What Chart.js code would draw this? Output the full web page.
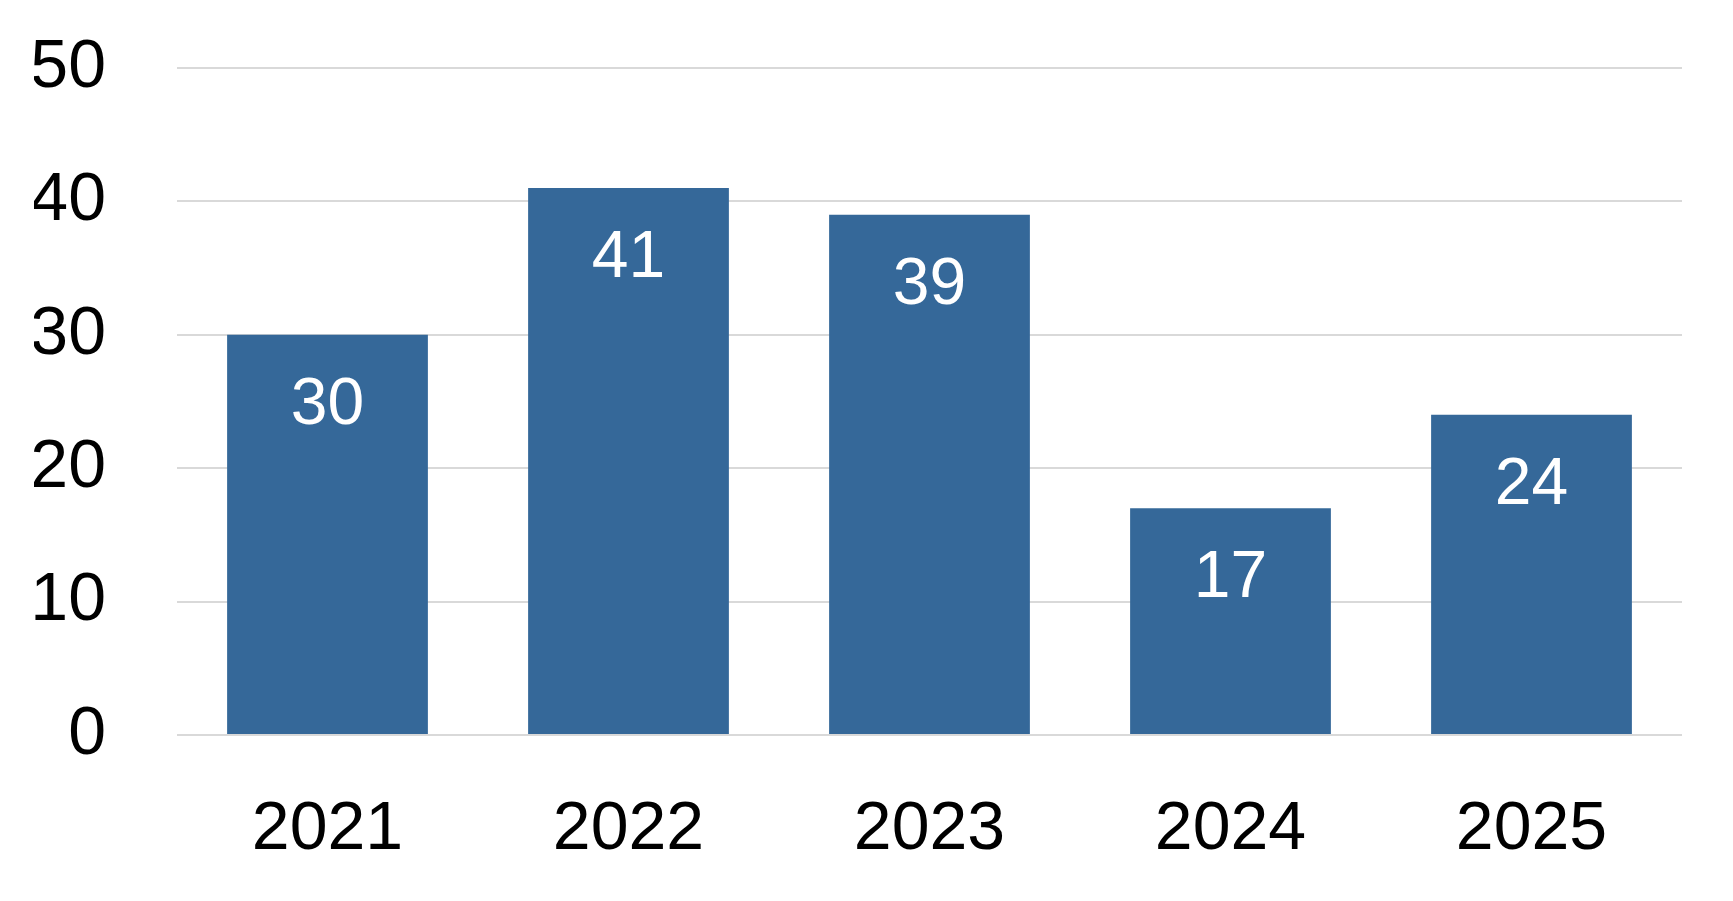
<!DOCTYPE html>
<html>
<head>
<meta charset="utf-8">
<title>Chart</title>
<script src="https://cdn.jsdelivr.net/npm/chart.js@4.4.1/dist/chart.umd.min.js"></script>
<style>
  html, body { margin: 0; padding: 0; background: #fff; }
  #graph { display: block; }
</style>
</head>
<body>
<canvas id="graph" width="1733" height="901"></canvas>
<script>
const years = ['2021', '2022', '2023', '2024', '2025'];
const counts = [30, 41, 39, 17, 24];
const yTicks = [0, 10, 20, 30, 40, 50];

const barColor = '#356899';
const gridColor = '#d9d9d9';
const fontFamily = '"Liberation Sans", Arial, sans-serif';

// white value labels just under the top of each bar
const valueLabels = {
  id: 'valueLabels',
  afterDatasetsDraw(chart){
    const ctx = chart.ctx;
    const meta = chart.getDatasetMeta(0);
    ctx.save();
    ctx.fillStyle = '#fff';
    ctx.font = '66px ' + fontFamily;
    ctx.textAlign = 'center';
    ctx.textBaseline = 'middle';
    meta.data.forEach((bar, i)=>{
      ctx.fillText(String(counts[i]), bar.x, bar.y + 71);
    });
    ctx.restore();
  }
};

const myBarChart = new Chart(document.getElementById('graph'), {
  type: 'bar',
  data: {
    labels: years,
    datasets: [
      {
        label: 'Count',
        data: counts,
        backgroundColor: barColor,
        borderWidth: 0,
        barPercentage: 0.667,
        categoryPercentage: 1
      }
    ]
  },
  options: {
    responsive: false,
    devicePixelRatio: 1,
    animation: false,
    layout: {
      padding: { left: 34, right: 51, top: 68, bottom: 34 }
    },
    plugins: {
      legend: { display: false },
      tooltip: { enabled: false }
    },
    scales: {
      x: {
        grid: { display: false },
        border: { display: false },
        afterFit: (axis)=>{
          // fixed box so the plot lines up with the original
          axis.height = 132;
          axis.paddingLeft = 0;
          axis.paddingRight = 0;
        },
        ticks: {
          color: '#000',
          padding: 46,
          font: { family: fontFamily, size: 68 }
        }
      },
      y: {
        min: yTicks[0],
        max: yTicks[yTicks.length - 1],
        afterBuildTicks: (axis)=>{
          axis.ticks = yTicks.map(v=>({ value: v }));
        },
        afterFit: (axis)=>{
          axis.width = 143;
          axis.paddingTop = 0;
          axis.paddingBottom = 0;
        },
        grid: { color: gridColor, lineWidth: 2, drawTicks: false },
        border: { display: false },
        ticks: {
          color: '#000',
          padding: 71,
          font: { family: fontFamily, size: 68 }
        }
      }
    }
  },
  plugins: [valueLabels]
});
</script>
</body>
</html>
